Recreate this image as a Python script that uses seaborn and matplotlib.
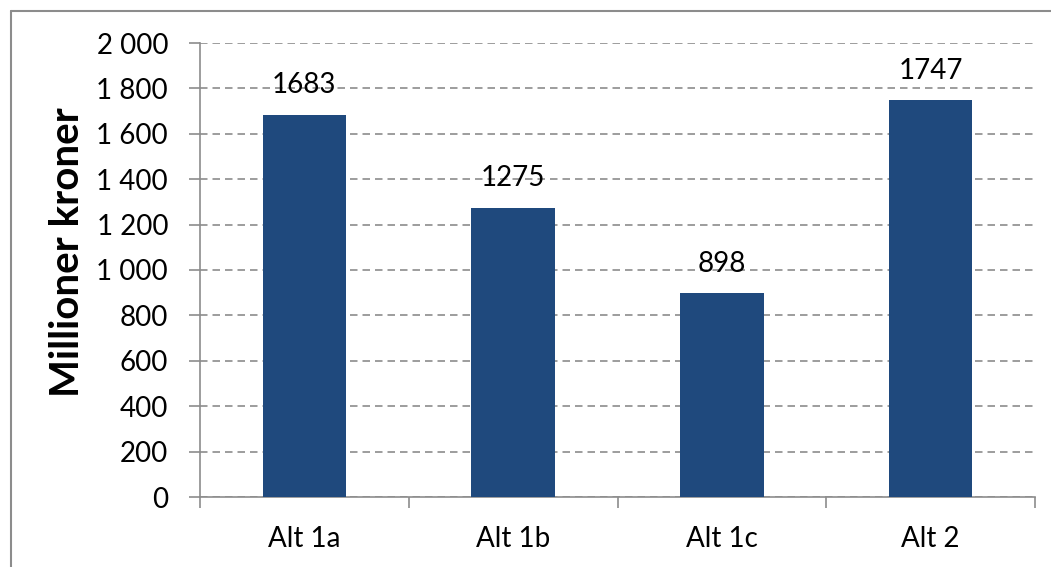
import matplotlib
matplotlib.use("Agg")
import matplotlib.pyplot as plt
from matplotlib.lines import Line2D
from matplotlib.ticker import FixedLocator, FuncFormatter
import seaborn as sns
import pandas as pd

categories = ["Alt 1a", "Alt 1b", "Alt 1c", "Alt 2"]
values = [1683, 1275, 898, 1747]
y_ticks = [0, 200, 400, 600, 800, 1000, 1200, 1400, 1600, 1800, 2000]

sns.set_theme(style="white")
plt.rcParams["font.family"] = ["Lato", "DejaVu Sans"]

df = pd.DataFrame({"alt": categories, "value": values})

fig = plt.figure(figsize=(10.51, 5.67), dpi=100)
ax = fig.add_axes([200 / 1051, 1 - 497 / 567, 835 / 1051, 454 / 567])

bar_color = "#1F497D"
grid_color = "#8C8C8C"

sns.barplot(data=df, x="alt", y="value", color=bar_color, width=0.4,
            saturation=1, ax=ax, zorder=3, edgecolor="none")

ax.set_xlim(-0.5, len(categories) - 0.5)
ax.set_ylim(0, 2000)

# dashed horizontal gridlines
ax.yaxis.set_major_locator(FixedLocator(y_ticks))
ax.yaxis.set_major_formatter(FuncFormatter(lambda v, p: f"{int(v):,}".replace(",", " ")))
ax.grid(axis="y", linestyle=(0, (4.5, 3)), color=grid_color, linewidth=1.2, zorder=0)
ax.grid(axis="x", visible=False)

for s in ["top", "right"]:
    ax.spines[s].set_visible(False)
for s in ["left", "bottom"]:
    ax.spines[s].set_color(grid_color)
    ax.spines[s].set_linewidth(1.2)

ax.tick_params(axis="y", which="major", left=True, length=8, width=1.2,
               color=grid_color, pad=15, labelsize=20, labelcolor="black")
# category boundary ticks on x-axis, labels at the centres
ax.set_xticks([i - 0.5 for i in range(len(categories) + 1)], minor=True)
ax.tick_params(axis="x", which="minor", bottom=True, length=8, width=1.2,
               color=grid_color)
ax.tick_params(axis="x", which="major", bottom=False, length=0, pad=21,
               labelsize=20, labelcolor="black")

ax.set_xlabel("")
ax.set_ylabel("Millioner kroner", fontsize=29, fontweight="bold", color="black")
ax.yaxis.set_label_coords(-114 / 835, 0.54)

for i, v in enumerate(values):
    ax.text(i, v + 130, f"{v}", ha="center", va="center", fontsize=20,
            color="black", zorder=4)

# outer chart frame (left and top edges)
fig.add_artist(Line2D([11 / 1051, 11 / 1051], [0, 1 - 11 / 567],
                      transform=fig.transFigure, color="#8C8C8C", linewidth=1.5))
fig.add_artist(Line2D([11 / 1051, 1], [1 - 11 / 567, 1 - 11 / 567],
                      transform=fig.transFigure, color="#8C8C8C", linewidth=1.5))

fig.savefig("out.png", dpi=100)
